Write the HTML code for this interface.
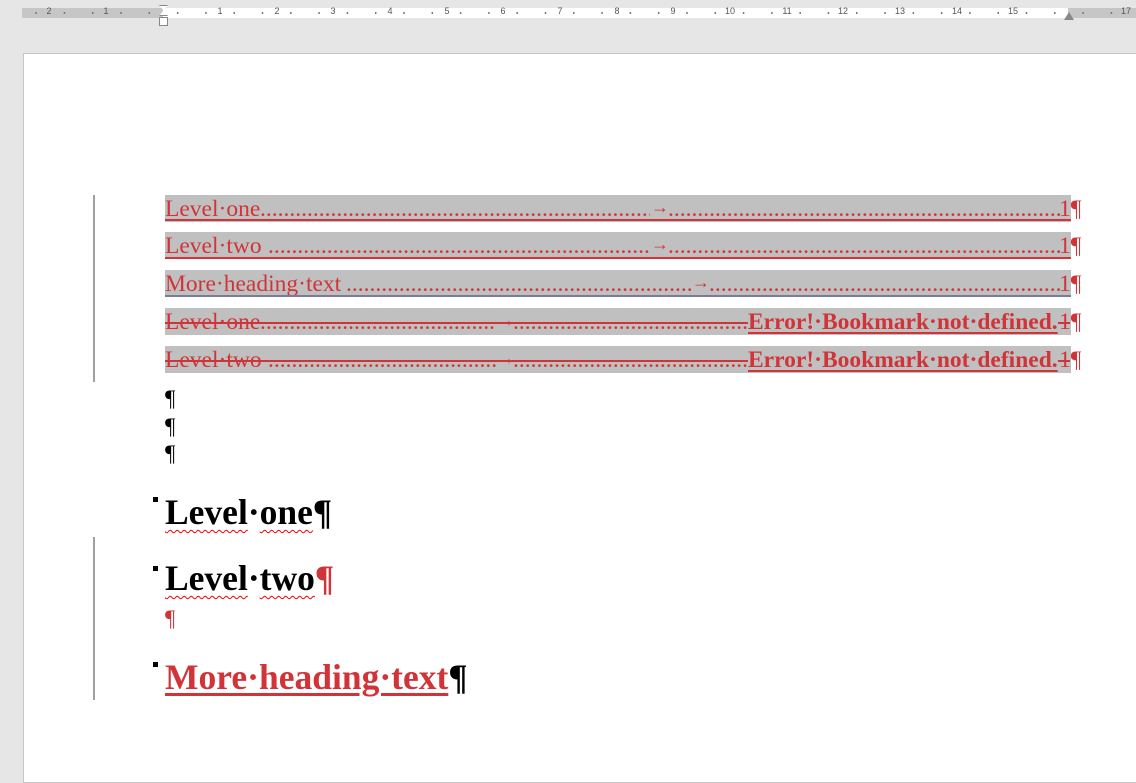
<!DOCTYPE html>
<html><head><meta charset="utf-8"><style>
*{margin:0;padding:0;box-sizing:border-box}
body{width:1136px;height:775px;background:#e6e6e6;position:relative;overflow:hidden;font-family:"Liberation Serif",serif}
.ab{position:absolute;white-space:nowrap}
#ruler{position:absolute;left:22px;top:8px;width:1114px;height:10px;background:#fff}
.rg{position:absolute;top:8px;height:10px;background:#c6c6c6}
.rn{position:absolute;top:6px;font:9px "Liberation Sans",sans-serif;color:#555;transform:translateX(-50%)}
.tick{position:absolute;top:8px;left:22px;width:1114px;height:10px;background:repeating-linear-gradient(90deg,transparent 0 13.65px,#777 13.65px 14.65px,transparent 14.65px 28.3px);background-size:28.3px 2px;background-repeat:repeat-x;background-position-y:4px}
#page{position:absolute;left:23px;top:53px;width:1120px;height:730px;background:#fff;border:1px solid #c6c6c6}
.bar{position:absolute;left:93px;width:2px;background:#a0a0a0}
.band{position:absolute;left:165px;width:906px;height:27px;background:#c0c0c0}
.t{position:absolute;font-size:23.5px;line-height:27px;color:#d13438;white-space:nowrap}
.dots{position:absolute;font-size:23.5px;line-height:27px;color:#d13438;white-space:nowrap;overflow:hidden}
.ul{position:absolute;height:2px;background:#d13438}
.pil{position:absolute;font-size:23px;line-height:27px}
.sq{position:absolute;width:5px;height:5px;background:#000;left:153px}
.h{position:absolute;left:165px;font-weight:bold;font-size:35.5px;line-height:40px;white-space:nowrap}
.wv{text-decoration:underline wavy #e00;text-decoration-thickness:1px;text-underline-offset:5px}
.err{font-weight:bold;text-decoration:underline;text-decoration-thickness:2px;text-underline-offset:3px}
</style></head><body>
<div id="ruler"></div>
<div class="rg" style="left:22px;width:141px"></div>
<div class="rg" style="left:1068px;width:68px"></div>
<div class="tick"></div>
<span class="rn" style="left:49px">2</span><span class="rn" style="left:106px">1</span>
<span class="rn" style="left:220px">1</span><span class="rn" style="left:277px">2</span><span class="rn" style="left:333px">3</span><span class="rn" style="left:390px">4</span><span class="rn" style="left:447px">5</span><span class="rn" style="left:503px">6</span><span class="rn" style="left:560px">7</span><span class="rn" style="left:617px">8</span><span class="rn" style="left:673px">9</span><span class="rn" style="left:730px">10</span><span class="rn" style="left:787px">11</span><span class="rn" style="left:843px">12</span><span class="rn" style="left:900px">13</span><span class="rn" style="left:957px">14</span><span class="rn" style="left:1013px">15</span><span class="rn" style="left:1126px">17</span>
<div class="ab" style="left:159px;top:5px;width:9px;height:11px;border:1px solid #888;background:#fff;clip-path:polygon(0 0,100% 0,50% 50%,100% 100%,0 100%,50% 50%)"></div>
<div class="ab" style="left:159px;top:17px;width:9px;height:9px;border:1px solid #888;background:#fff"></div>
<div class="ab" style="left:1064px;top:12px;width:10px;height:8px;background:#888;clip-path:polygon(50% 0,100% 100%,0 100%)"></div>
<div id="page"></div>
<div class="bar" style="top:195px;height:187px"></div>
<div class="bar" style="top:537px;height:163px"></div>

<div class="band" style="top:195px"></div>
<div class="band" style="top:232px"></div>
<div class="band" style="top:270px"></div>
<div class="band" style="top:308px"></div>
<div class="band" style="top:346px"></div>

<!-- row1 -->
<div class="t" style="left:165px;top:196px">Level·one</div>
<div class="dots" style="left:260px;top:196px;width:390px">.........................................................................................................</div>
<div class="t" style="left:651px;top:194px;font-size:18px">→</div>
<div class="dots" style="left:668px;top:196px;width:392px">.........................................................................................................</div>
<div class="t" style="left:1059px;top:196px">1¶</div>
<div class="ul" style="left:165px;top:219px;width:906px;height:1.5px"></div>
<!-- row2 -->
<div class="t" style="left:165px;top:233px">Level·two</div>
<div class="dots" style="left:268px;top:233px;width:382px">.........................................................................................................</div>
<div class="t" style="left:651px;top:231px;font-size:18px">→</div>
<div class="dots" style="left:668px;top:233px;width:392px">.........................................................................................................</div>
<div class="t" style="left:1059px;top:233px">1¶</div>
<div class="ul" style="left:165px;top:257px;width:906px;height:1.5px"></div>
<!-- row3 -->
<div class="t" style="left:165px;top:271px">More·heading·text</div>
<div class="dots" style="left:346px;top:271px;width:345px">.........................................................................................................</div>
<div class="t" style="left:692px;top:269px;font-size:18px">→</div>
<div class="dots" style="left:709px;top:271px;width:351px">.........................................................................................................</div>
<div class="t" style="left:1059px;top:271px">1¶</div>
<div class="ul" style="left:165px;top:295px;width:906px;height:1.5px;background:#7a7a9a"></div>
<!-- row4 -->
<div class="t" style="left:165px;top:309px">Level·one</div>
<div class="dots" style="left:260px;top:309px;width:236px">.........................................................................................................</div>
<div class="t" style="left:497px;top:307px;font-size:18px">→</div>
<div class="dots" style="left:513px;top:309px;width:235px">.........................................................................................................</div>
<div class="t err" style="left:748px;top:309px">Error!·Bookmark·not·defined.</div>
<div class="t" style="left:1059px;top:309px">1¶</div>
<div class="ul" style="left:165px;top:322px;width:583px;height:1.5px"></div>
<div class="ul" style="left:1058px;top:322px;width:12px;height:1.5px"></div>
<!-- row5 -->
<div class="t" style="left:165px;top:347px">Level·two</div>
<div class="dots" style="left:268px;top:347px;width:228px">.........................................................................................................</div>
<div class="t" style="left:497px;top:345px;font-size:18px">→</div>
<div class="dots" style="left:513px;top:347px;width:235px">.........................................................................................................</div>
<div class="t err" style="left:748px;top:347px">Error!·Bookmark·not·defined.</div>
<div class="t" style="left:1059px;top:347px">1¶</div>
<div class="ul" style="left:165px;top:360px;width:583px;height:1.5px"></div>
<div class="ul" style="left:1058px;top:360px;width:12px;height:1.5px"></div>

<div class="pil" style="left:165px;top:385px">¶</div>
<div class="pil" style="left:165px;top:413px">¶</div>
<div class="pil" style="left:165px;top:440px">¶</div>

<div class="sq" style="top:497px"></div>
<div class="h" style="top:492px"><span class="wv">Level</span>·<span class="wv">one</span>¶</div>
<div class="sq" style="top:566px"></div>
<div class="h" style="top:558px"><span class="wv">Level</span>·<span class="wv">two</span><span style="color:#d13438">¶</span></div>
<div class="pil" style="left:165px;top:605px;color:#d13438">¶</div>
<div class="sq" style="top:662px"></div>
<div class="h" style="top:657px"><span style="color:#d13438;text-decoration:underline;text-decoration-thickness:3px;text-underline-offset:4px">More·heading·text</span>¶</div>
</body></html>
